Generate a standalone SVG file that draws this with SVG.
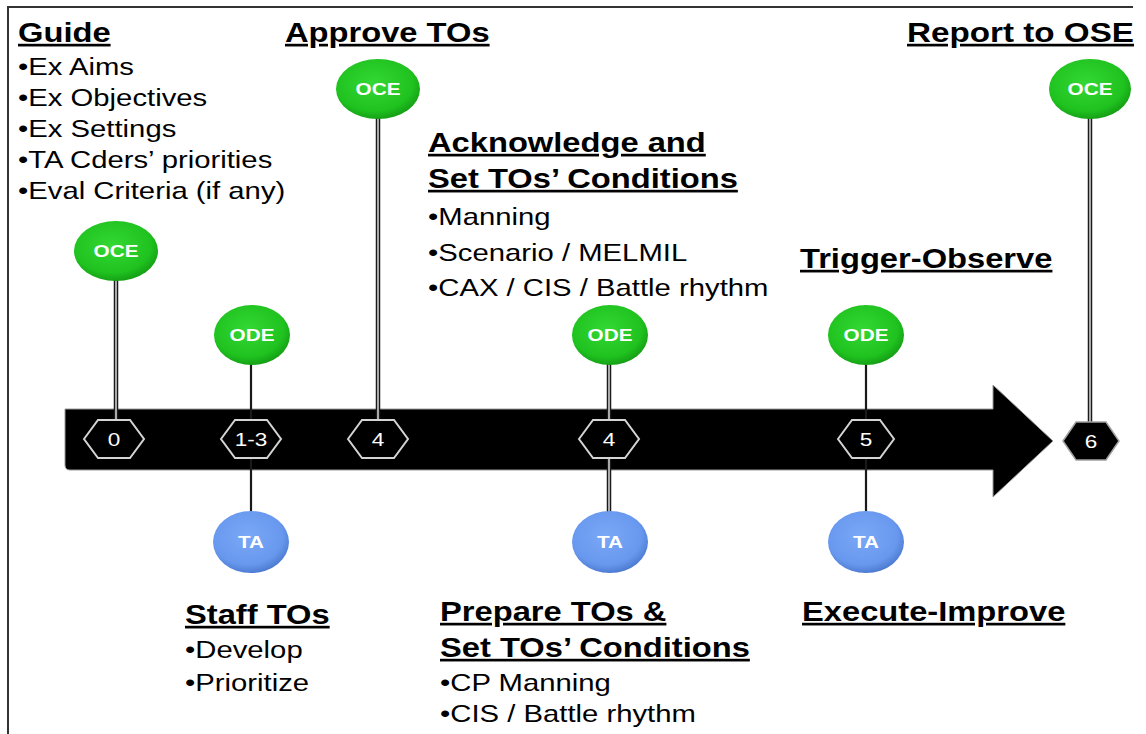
<svg xmlns="http://www.w3.org/2000/svg" width="1146" height="734" viewBox="0 0 1146 734">
<style>
.h{font-family:"Liberation Sans",Arial,sans-serif;font-weight:bold;font-size:26.8px;fill:#000;text-decoration:underline}
.b{font-family:"Liberation Sans",Arial,sans-serif;font-size:24px;fill:#000}
.el{font-family:"Liberation Sans",Arial,sans-serif;font-weight:bold;font-size:17px;fill:#fff;text-anchor:middle}
.hx{font-family:"Liberation Sans",Arial,sans-serif;font-size:18.5px;fill:#fff;text-anchor:middle}
.hex{fill:#000;stroke:#d4d4d4;stroke-width:2}
.so{stroke:#1a1a1a;stroke-width:4.5}
.si{stroke:#cfcfcf;stroke-width:1.6}
.s1{stroke:#1a1a1a;stroke-width:2.2}
</style>
<defs>
<radialGradient id="gG" cx="45%" cy="40%" r="62%">
<stop offset="0" stop-color="#34d834"/>
<stop offset="0.75" stop-color="#1fc21f"/>
<stop offset="1" stop-color="#149c14"/>
</radialGradient>
<radialGradient id="gB" cx="45%" cy="40%" r="62%">
<stop offset="0" stop-color="#7aa8f7"/>
<stop offset="0.75" stop-color="#6898ee"/>
<stop offset="1" stop-color="#4a78cf"/>
</radialGradient>
</defs>
<rect width="1146" height="734" fill="#fff"/>
<path d="M8,734 V7 H1133" fill="none" stroke="#333" stroke-width="2"/>

<g id="arrow">
<path d="M65,409 H993 V385 L1053,441 L993,497 V470 H70 Q65,470 65,465 Z" fill="#000" stroke="#9a9a9a" stroke-width="1"/>
</g>

<g id="connectors">
<line class="so" x1="116" y1="280" x2="116" y2="421"/><line class="si" x1="116" y1="280" x2="116" y2="421"/>
<line class="s1" x1="251" y1="364" x2="251" y2="421"/>
<line class="s1" x1="251" y1="457" x2="251" y2="512"/>
<line class="so" x1="378" y1="118" x2="378" y2="421"/><line class="si" x1="378" y1="118" x2="378" y2="421"/>
<line class="so" x1="609" y1="364" x2="609" y2="421"/><line class="si" x1="609" y1="364" x2="609" y2="421"/>
<line class="so" x1="609" y1="457" x2="609" y2="512"/><line class="si" x1="609" y1="457" x2="609" y2="512"/>
<line class="s1" x1="866" y1="364" x2="866" y2="421"/>
<line class="s1" x1="866" y1="457" x2="866" y2="512"/>
<line class="so" x1="1090" y1="118" x2="1090" y2="422"/><line class="si" x1="1090" y1="118" x2="1090" y2="422"/>
</g>

<g id="hex0"><polygon class="hex" points="84,439 98,420 130,420 144,439 130,458 98,458"/><g transform="translate(114,446) scale(1.22,1)"><text class="hx">0</text></g></g>
<g id="hex13"><polygon class="hex" points="221,439 235,420 267,420 281,439 267,458 235,458"/><g transform="translate(251,446) scale(1.22,1)"><text class="hx">1-3</text></g></g>
<g id="hex4a"><polygon class="hex" points="348,439 362,420 394,420 408,439 394,458 362,458"/><g transform="translate(378,446) scale(1.22,1)"><text class="hx">4</text></g></g>
<g id="hex4b"><polygon class="hex" points="579,439 593,420 625,420 639,439 625,458 593,458"/><g transform="translate(609,446) scale(1.22,1)"><text class="hx">4</text></g></g>
<g id="hex5"><polygon class="hex" points="838,439 852,420 880,420 894,439 880,458 852,458"/><g transform="translate(866,446) scale(1.22,1)"><text class="hx">5</text></g></g>
<g id="hex6"><polygon points="1063,441 1076,422 1106,422 1119,441 1106,460 1076,460" fill="#000" stroke="#a0a0a0" stroke-width="1.5"/><g transform="translate(1091,448) scale(1.22,1)"><text class="hx">6</text></g></g>

<g id="oce0"><ellipse cx="116" cy="251" rx="42" ry="30" fill="url(#gG)"/><g transform="translate(116,257) scale(1.22,1)"><text class="el">OCE</text></g></g>
<g id="ode13"><ellipse cx="252" cy="335" rx="38" ry="30" fill="url(#gG)"/><g transform="translate(252,341) scale(1.22,1)"><text class="el">ODE</text></g></g>
<g id="ta13"><ellipse cx="251" cy="542" rx="38" ry="31" fill="url(#gB)"/><g transform="translate(251,548) scale(1.22,1)"><text class="el">TA</text></g></g>
<g id="oce4"><ellipse cx="378" cy="89" rx="42" ry="30" fill="url(#gG)"/><g transform="translate(378,95) scale(1.22,1)"><text class="el">OCE</text></g></g>
<g id="ode4"><ellipse cx="610" cy="335" rx="38" ry="30" fill="url(#gG)"/><g transform="translate(610,341) scale(1.22,1)"><text class="el">ODE</text></g></g>
<g id="ta4"><ellipse cx="610" cy="542" rx="38" ry="31" fill="url(#gB)"/><g transform="translate(610,548) scale(1.22,1)"><text class="el">TA</text></g></g>
<g id="ode5"><ellipse cx="866" cy="335" rx="38" ry="30" fill="url(#gG)"/><g transform="translate(866,341) scale(1.22,1)"><text class="el">ODE</text></g></g>
<g id="ta5"><ellipse cx="866" cy="542" rx="38" ry="31" fill="url(#gB)"/><g transform="translate(866,548) scale(1.22,1)"><text class="el">TA</text></g></g>
<g id="oce6"><ellipse cx="1090" cy="89" rx="41" ry="30" fill="url(#gG)"/><g transform="translate(1090,95) scale(1.22,1)"><text class="el">OCE</text></g></g>

<g id="guide" transform="translate(18,0) scale(1.22,1)">
<text class="h" x="0" y="42">Guide</text>
<text class="b" x="0" y="75">•Ex Aims</text>
<text class="b" x="0" y="106">•Ex Objectives</text>
<text class="b" x="0" y="137">•Ex Settings</text>
<text class="b" x="0" y="168">•TA Cders’ priorities</text>
<text class="b" x="0" y="199">•Eval Criteria (if any)</text>
</g>
<g id="approve" transform="translate(285,0) scale(1.22,1)">
<text class="h" x="0" y="42">Approve TOs</text>
</g>
<g id="report" transform="translate(907,0) scale(1.24,1)">
<text class="h" x="0" y="42">Report to OSE</text>
</g>
<g id="ack" transform="translate(428,0) scale(1.22,1)">
<text class="h" x="0" y="152">Acknowledge and</text>
<text class="h" x="0" y="188">Set TOs’ Conditions</text>
<text class="b" x="0" y="225">•Manning</text>
<text class="b" x="0" y="261">•Scenario / MELMIL</text>
<text class="b" x="0" y="296">•CAX / CIS / Battle rhythm</text>
</g>
<g id="trigger" transform="translate(800,0) scale(1.22,1)">
<text class="h" x="0" y="268">Trigger-Observe</text>
</g>
<g id="staff" transform="translate(185,0) scale(1.22,1)">
<text class="h" x="0" y="624">Staff TOs</text>
<text class="b" x="0" y="658">•Develop</text>
<text class="b" x="0" y="691">•Prioritize</text>
</g>
<g id="prepare" transform="translate(440,0) scale(1.22,1)">
<text class="h" x="0" y="621">Prepare TOs &amp;</text>
<text class="h" x="0" y="657">Set TOs’ Conditions</text>
<text class="b" x="0" y="691">•CP Manning</text>
<text class="b" x="0" y="722">•CIS / Battle rhythm</text>
</g>
<g id="execute" transform="translate(802,0) scale(1.22,1)">
<text class="h" x="0" y="621">Execute-Improve</text>
</g>
</svg>
